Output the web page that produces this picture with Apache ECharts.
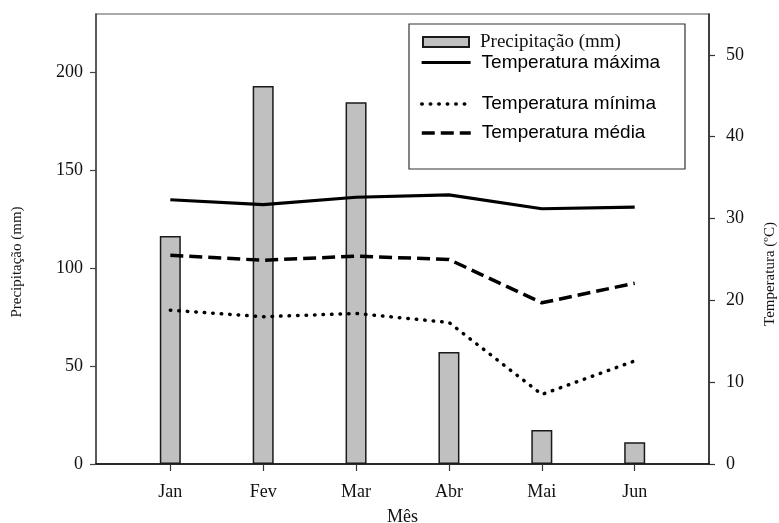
<!DOCTYPE html>
<html>
<head>
<meta charset="utf-8">
<script src="https://cdn.jsdelivr.net/npm/echarts@6/dist/echarts.min.js"></script>
<style>
html,body{margin:0;padding:0;background:#fff;}
#chart{width:779px;height:523px;}
</style>
</head>
<body>
<div id="chart"></div>
<script>
const months = ['Jan', 'Fev', 'Mar', 'Abr', 'Mai', 'Jun'];
const precip = [116.5, 193.2, 184.9, 57.2, 17.4, 11.1];
const tMax = [32.3, 31.7, 32.6, 32.9, 31.2, 31.4];
const tMin = [18.8, 18.0, 18.4, 17.3, 8.5, 12.6];
const tMed = [25.5, 24.9, 25.4, 25.0, 19.7, 22.1];
const precipTicks = [0, 50, 100, 150, 200];
const tempTicks = [0, 10, 20, 30, 40, 50];
const monthPos = [1, 2, 3, 4, 5, 6];

const serif = 'Liberation Serif, Times New Roman, serif';
const sans = 'Liberation Sans, Arial, sans-serif';

const pairs = arr => arr.map((v, i) => [monthPos[i], v]);

const chart = echarts.init(document.getElementById('chart'), null, {renderer: 'canvas'});

const legendBase = {
  orient: 'horizontal', selectedMode: false, padding: 0, itemGap: 0
};
const lineLegend = {
  itemWidth: 49, itemHeight: 4, itemStyle: {opacity: 0},
  textStyle: {fontFamily: sans, fontSize: 19, color: '#000', padding: [0, 0, 0, 6]}
};
const maxStyle = {color: '#000', width: 3.2, type: 'solid'};
const minStyle = {color: '#000', width: 3.5, type: [0.5, 8], cap: 'round'};
const medStyle = {color: '#000', width: 3.5, type: [13, 6]};

chart.setOption({
  animation: false,
  backgroundColor: '#fff',
  grid: {left: 96, right: 70, top: 14, bottom: 59, show: true, borderColor: '#555', borderWidth: 1.2,
    backgroundColor: 'transparent', containLabel: false, outerBoundsMode: 'none'},
  xAxis: {
    type: 'value', min: 0.2, max: 6.8,
    name: 'Mês', nameLocation: 'middle', nameGap: 44,
    nameTextStyle: {fontFamily: serif, fontSize: 18, color: '#111'},
    splitLine: {show: false},
    axisLine: {show: true, lineStyle: {color: '#000', width: 1.5}},
    axisTick: {show: true, length: 7, lineStyle: {color: '#333', width: 1.2}, customValues: monthPos},
    axisLabel: {show: true, margin: 19, fontFamily: serif, fontSize: 18, color: '#111', customValues: monthPos,
      formatter: v => months[Math.round(v) - 1] || ''}
  },
  yAxis: [
    {
      type: 'value', min: 0, max: 230, position: 'left',
      splitLine: {show: false},
      axisLine: {show: true, lineStyle: {color: '#444', width: 1.5}},
      axisTick: {show: true, length: 6, lineStyle: {color: '#444', width: 1.2}, customValues: precipTicks},
      axisLabel: {margin: 13, fontFamily: serif, fontSize: 18, color: '#111', customValues: precipTicks}
    },
    {
      type: 'value', min: 0, max: 55, position: 'right',
      splitLine: {show: false},
      axisLine: {show: true, lineStyle: {color: '#222', width: 1.5}},
      axisTick: {show: true, length: 6, lineStyle: {color: '#333', width: 1.2}, customValues: tempTicks},
      axisLabel: {margin: 17, fontFamily: serif, fontSize: 18, color: '#111', customValues: tempTicks}
    }
  ],
  legend: [
    Object.assign({}, legendBase, {data: ['Precipitação (mm)'], left: 422, top: 32.5, itemWidth: 46, itemHeight: 10, icon: 'rect',
      textStyle: {fontFamily: serif, fontSize: 19, color: '#111', padding: [0, 0, 0, 6]}}),
    Object.assign({}, legendBase, lineLegend, {data: ['Temperatura máxima'], left: 420, top: 53, lineStyle: maxStyle}),
    Object.assign({}, legendBase, lineLegend, {data: ['Temperatura mínima'], left: 420, top: 94.5, lineStyle: minStyle}),
    Object.assign({}, legendBase, lineLegend, {data: ['Temperatura média'], left: 420, top: 123.5, lineStyle: medStyle})
  ],
  graphic: [
    {type: 'rect', z: 0, shape: {x: 409, y: 24, width: 276, height: 145},
      style: {fill: '#fff', stroke: '#333', lineWidth: 1.2}},
    {type: 'text', x: 17, y: 262, rotation: Math.PI / 2,
      style: {text: 'Precipitação (mm)', fontFamily: serif, fontSize: 15, fill: '#111', textAlign: 'center', textVerticalAlign: 'middle'}},
    {type: 'text', x: 770, y: 274, rotation: Math.PI / 2,
      style: {text: 'Temperatura (ºC)', fontFamily: serif, fontSize: 15, fill: '#111', textAlign: 'center', textVerticalAlign: 'middle'}}
  ],
  series: [
    {name: 'Precipitação (mm)', type: 'bar', xAxisIndex: 0, yAxisIndex: 0, barWidth: 21, z: 2,
      itemStyle: {color: '#c0c0c0', borderColor: '#1a1a1a', borderWidth: 1.5},
      data: pairs(precip)},
    {name: 'Temperatura máxima', type: 'line', yAxisIndex: 1, symbol: 'none', z: 3,
      lineStyle: maxStyle, itemStyle: {color: '#000'},
      data: pairs(tMax)},
    {name: 'Temperatura mínima', type: 'line', yAxisIndex: 1, symbol: 'none', z: 3,
      lineStyle: minStyle, itemStyle: {color: '#000'},
      data: pairs(tMin)},
    {name: 'Temperatura média', type: 'line', yAxisIndex: 1, symbol: 'none', z: 3,
      lineStyle: medStyle, itemStyle: {color: '#000'},
      data: pairs(tMed)}
  ]
});
</script>
</body>
</html>
